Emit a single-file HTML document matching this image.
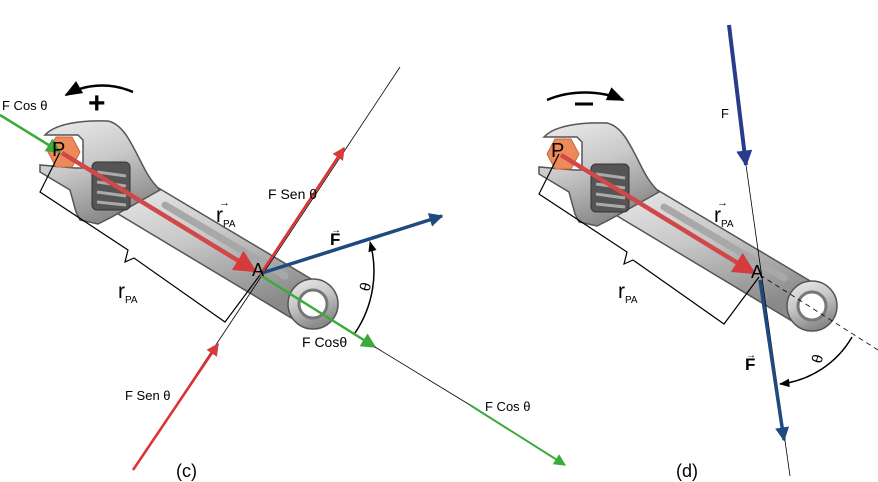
<!DOCTYPE html>
<html><head><meta charset="utf-8"><style>
html,body{margin:0;padding:0;background:#fff}
svg{display:block}
text{font-family:"Liberation Sans",sans-serif}
</style></head><body>
<svg width="878" height="482" viewBox="0 0 878 482" xmlns="http://www.w3.org/2000/svg">
<defs>
<linearGradient id="g" x1="0" y1="0" x2="0.4" y2="1">
<stop offset="0" stop-color="#ececec"/><stop offset="0.5" stop-color="#c8c8c8"/><stop offset="1" stop-color="#8a8a8a"/>
</linearGradient>
<marker id="ar" viewBox="0 0 10 10" refX="9" refY="5" markerWidth="5" markerHeight="5" orient="auto"><path d="M0,0L10,5L0,10z" fill="#d63a3a"/></marker>
<marker id="ab" viewBox="0 0 10 10" refX="9" refY="5" markerWidth="5" markerHeight="4" orient="auto"><path d="M0,0L10,5L0,10z" fill="#1f4a80"/></marker>
<marker id="an" viewBox="0 0 10 10" refX="9" refY="5" markerWidth="5" markerHeight="4" orient="auto"><path d="M0,0L10,5L0,10z" fill="#283c8c"/></marker>
<marker id="ag" viewBox="0 0 10 10" refX="9" refY="5" markerWidth="6" markerHeight="6" orient="auto"><path d="M0,0L10,5L0,10z" fill="#3aaa3a"/></marker>
<marker id="ak" viewBox="0 0 10 10" refX="9" refY="5" markerWidth="7" markerHeight="7" orient="auto"><path d="M0,1L10,5L0,9z" fill="#000"/></marker>
<g id="w">
<path d="M145,180 L318,283 A25,25 0 0 1 298,322 L105,206 Z" fill="url(#g)" stroke="#555" stroke-width="1.5"/>
<circle cx="313" cy="304" r="25" fill="url(#g)" stroke="#555" stroke-width="1.5"/>
<circle cx="313" cy="304" r="14" fill="#fff" stroke="#777" stroke-width="3"/>
<path d="M165,205 L285,276" stroke="#a8a8a8" stroke-width="7" stroke-linecap="round"/>
<path d="M45,135 C55,124 80,120 108,121 C122,124 130,140 140,160 C146,172 150,180 160,190 L110,218 L98,224 L80,220 L76,212 L70,190 L40,172 L40,165 L75,168 L83,168 L83,140 L78,135 Z" fill="url(#g)" stroke="#555" stroke-width="1.5"/>
<rect x="92" y="162" width="38" height="48" rx="5" fill="#555" stroke="#333"/>
<path d="M97,172 L126,176 M97,182 L126,186 M97,192 L126,196 M97,202 L126,205" stroke="#aaa" stroke-width="3"/>
<polygon points="48,152 56,137 72,137 80,152 72,167 56,167" fill="#ec8a5c" stroke="#c86838"/>
<path d="M60,152 L40,192 L128,250 L125,262 L134,258 L225,322 L260,275" fill="none" stroke="#000" stroke-width="1.2"/>
<line x1="62" y1="153" x2="255" y2="271" stroke="#d04848" stroke-width="4.5" marker-end="url(#ar)"/>
</g>
</defs>

<use href="#w"/>
<use href="#w" transform="translate(499,2)"/>

<line x1="0" y1="115" x2="60" y2="152" stroke="#3aaa3a" stroke-width="2.5" marker-end="url(#ag)"/>
<line x1="400" y1="67" x2="133" y2="470" stroke="#000" stroke-width="0.8"/>
<line x1="260" y1="275" x2="375" y2="347" stroke="#3aaa3a" stroke-width="2.5" marker-end="url(#ag)"/>
<line x1="375" y1="347" x2="470" y2="405" stroke="#000" stroke-width="0.8"/>
<line x1="470" y1="405" x2="565" y2="465" stroke="#3aaa3a" stroke-width="2" marker-end="url(#ag)"/>
<line x1="260" y1="275" x2="344" y2="148" stroke="#e03030" stroke-width="2.5" marker-end="url(#ar)"/>
<line x1="133" y1="470" x2="218" y2="344" stroke="#e03030" stroke-width="2.5" marker-end="url(#ar)"/>
<line x1="262" y1="273" x2="442" y2="216" stroke="#1f4a80" stroke-width="3.5" marker-end="url(#ab)"/>
<path d="M355,333 A110,110 0 0 0 370,242" fill="none" stroke="#000" stroke-width="1.5" marker-end="url(#ak)"/>
<path d="M133,92 C110,82 85,84 66,95" fill="none" stroke="#000" stroke-width="2.5" marker-end="url(#ak)"/>
<text x="88" y="113" font-size="30" font-weight="bold">+</text>
<text x="2" y="110" font-size="13">F Cos θ</text>
<text x="52" y="156" font-size="20">P</text>
<text x="252" y="276" font-size="18">A</text>
<text x="268" y="199" font-size="14">F Sen θ</text>
<text x="216" y="222" font-size="21">r<tspan font-size="10" dy="5">PA</tspan></text>
<text x="219" y="206" font-size="11">→</text>
<text x="330" y="245" font-size="17" font-weight="bold">F</text>
<text x="331" y="233" font-size="10">→</text>
<text x="118" y="298" font-size="21">r<tspan font-size="10" dy="5">PA</tspan></text>
<text x="360" y="290" font-size="15" transform="rotate(-75 366 285)">θ</text>
<text x="302" y="347" font-size="14">F Cosθ</text>
<text x="125" y="400" font-size="13">F Sen θ</text>
<text x="485" y="411" font-size="13">F Cos θ</text>
<text x="176" y="477" font-size="18">(c)</text>

<line x1="746" y1="165" x2="790" y2="476" stroke="#000" stroke-width="0.8"/>
<line x1="760" y1="275" x2="878" y2="350" stroke="#000" stroke-width="0.8" stroke-dasharray="5,4"/>
<line x1="729" y1="25" x2="746" y2="165" stroke="#283c8c" stroke-width="4" marker-end="url(#an)"/>
<line x1="760" y1="280" x2="784" y2="440" stroke="#1f4a80" stroke-width="3.5" marker-end="url(#ab)"/>
<path d="M852,337 A95,95 0 0 1 780,384" fill="none" stroke="#000" stroke-width="1.5" marker-end="url(#ak)"/>
<path d="M547,100 C570,90 600,90 623,100" fill="none" stroke="#000" stroke-width="2.5" marker-end="url(#ak)"/>
<line x1="575" y1="104" x2="593" y2="104" stroke="#000" stroke-width="3"/>
<text x="551" y="157" font-size="20">P</text>
<text x="751" y="278" font-size="18">A</text>
<text x="721" y="118" font-size="13">F</text>
<text x="714" y="222" font-size="21">r<tspan font-size="10" dy="5">PA</tspan></text>
<text x="717" y="206" font-size="11">→</text>
<text x="618" y="298" font-size="21">r<tspan font-size="10" dy="5">PA</tspan></text>
<text x="745" y="370" font-size="17" font-weight="bold">F</text>
<text x="746" y="358" font-size="10">→</text>
<text x="812" y="362" font-size="15" transform="rotate(-75 818 357)">θ</text>
<text x="676" y="477" font-size="18">(d)</text>
</svg>
</body></html>
